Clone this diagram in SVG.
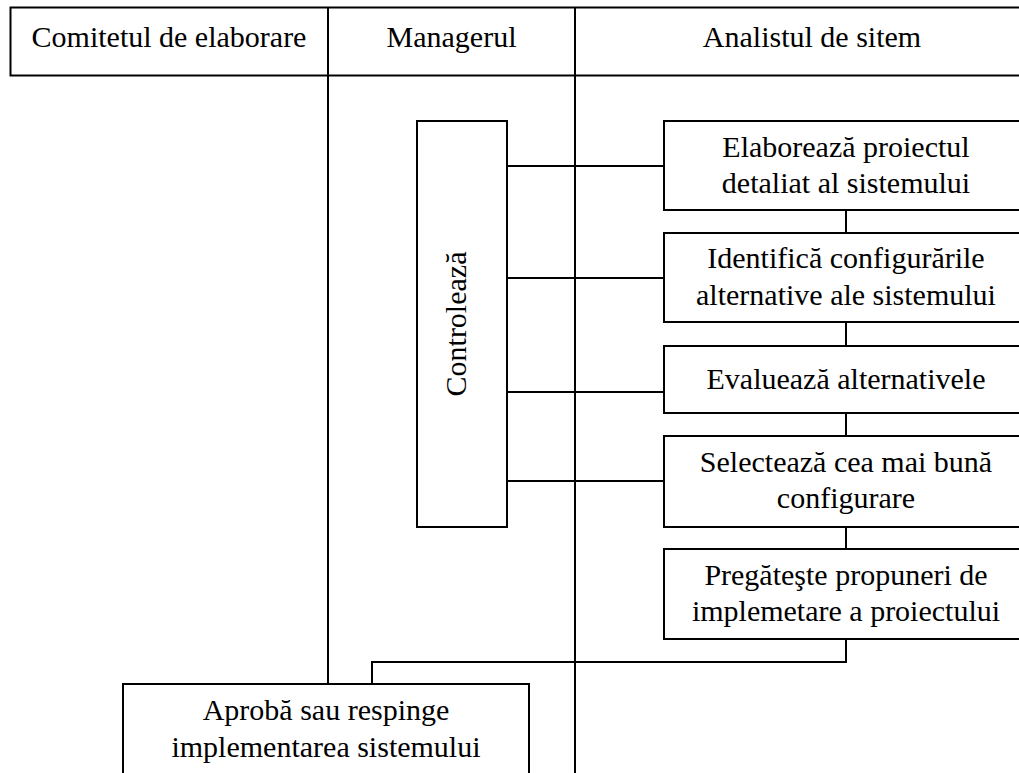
<svg xmlns="http://www.w3.org/2000/svg" width="1019" height="773" viewBox="0 0 1019 773">
<style>
.b{fill:#fff;stroke:#000;stroke-width:2}
.l{fill:none;stroke:#000;stroke-width:2}
text{font-family:'Liberation Serif','Times New Roman',serif;font-size:30px;fill:#000;text-anchor:middle}
</style>
<rect x="0" y="0" width="1019" height="773" fill="#fff"/>
<g id="header">
<rect class="b" x="10.5" y="7.5" width="1030" height="68"/>
<line class="l" x1="328" y1="7.5" x2="328" y2="75.5"/>
<line class="l" x1="575" y1="7.5" x2="575" y2="75.5"/>
<text x="169" y="47">Comitetul de elaborare</text>
<text x="451.5" y="47">Managerul</text>
<text x="812" y="47">Analistul de sitem</text>
</g>
<g id="connectors">
<line class="l" x1="328" y1="75.5" x2="328" y2="684"/>
<line class="l" x1="575" y1="75.5" x2="575" y2="773"/>
<line class="l" x1="507" y1="166" x2="664" y2="166"/>
<line class="l" x1="507" y1="278" x2="664" y2="278"/>
<line class="l" x1="507" y1="392" x2="664" y2="392"/>
<line class="l" x1="507" y1="481" x2="664" y2="481"/>
<line class="l" x1="846" y1="210" x2="846" y2="233"/>
<line class="l" x1="846" y1="322" x2="846" y2="346"/>
<line class="l" x1="846" y1="413" x2="846" y2="436"/>
<line class="l" x1="846" y1="527" x2="846" y2="549"/>
<polyline class="l" points="846,639 846,662 372,662 372,684"/>
</g>
<g id="controleaza">
<rect class="b" x="417" y="121" width="90" height="406"/>
<text transform="translate(466,324) rotate(-90)">Controlează</text>
</g>
<g id="elaboreaza">
<rect class="b" x="664" y="121" width="364" height="89"/>
<text x="846" y="157">Elaborează proiectul</text>
<text x="846" y="193">detaliat al sistemului</text>
</g>
<g id="identifica">
<rect class="b" x="664" y="233" width="364" height="89"/>
<text x="846" y="268">Identifică configurările</text>
<text x="846" y="305">alternative ale sistemului</text>
</g>
<g id="evalueaza">
<rect class="b" x="664" y="346" width="364" height="67"/>
<text x="846" y="389">Evaluează alternativele</text>
</g>
<g id="selecteaza">
<rect class="b" x="664" y="436" width="364" height="91"/>
<text x="846" y="472">Selectează cea mai bună</text>
<text x="846" y="508">configurare</text>
</g>
<g id="pregateste">
<rect class="b" x="664" y="549" width="364" height="90"/>
<text x="846" y="585">Pregăteşte propuneri de</text>
<text x="846" y="621">implemetare a proiectului</text>
</g>
<g id="aproba">
<rect class="b" x="123" y="684" width="406" height="110"/>
<text x="326" y="720">Aprobă sau respinge</text>
<text x="326" y="757">implementarea sistemului</text>
</g>
</svg>
